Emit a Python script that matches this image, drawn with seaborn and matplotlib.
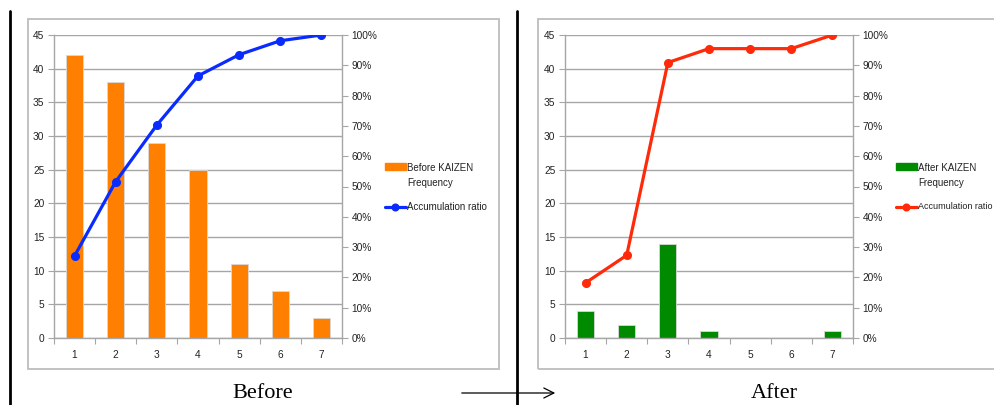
import matplotlib
matplotlib.use("Agg")
import matplotlib.pyplot as plt
import seaborn as sns
import pandas as pd
from matplotlib.patches import Rectangle, FancyArrowPatch
from matplotlib.lines import Line2D
from matplotlib.ticker import FuncFormatter, FixedLocator

# ---- data -------------------------------------------------------------
categories = ["1", "2", "3", "4", "5", "6", "7"]
before_freq = [42, 38, 29, 25, 11, 7, 3]
before_ratio = [27.1, 51.6, 70.3, 86.5, 93.5, 98.1, 100.0]
after_freq = [4, 2, 14, 1, 0, 0, 1]
after_ratio = [18.2, 27.3, 90.9, 95.5, 95.5, 95.5, 100.0]

freq_ticks = [0, 5, 10, 15, 20, 25, 30, 35, 40, 45]
pct_ticks = [0, 10, 20, 30, 40, 50, 60, 70, 80, 90, 100]

before_label = "Before KAIZEN\nFrequency"
after_label = "After KAIZEN\nFrequency"
line_label = "Accumulation ratio"

ORANGE = "#FF7F00"
BLUE = "#0A2BFF"
GREEN = "#008A00"
RED = "#FF2A0A"
GRID = "#A6A6A6"

sns.set_theme(style="white")
plt.rcParams["font.family"] = ["Liberation Sans", "DejaVu Sans"]

W, H = 995, 405
fig = plt.figure(figsize=(W / 100, H / 100), dpi=100)


def fx(px):
    return px / W


def fy(py):
    return 1 - py / H


def pareto_panel(left_px, freq, ratio, bar_color, line_color):
    ax = fig.add_axes([fx(left_px), fy(338), fx(288), fy(35) - fy(338)])
    df = pd.DataFrame({"cat": categories, "freq": freq, "ratio": ratio})
    sns.barplot(data=df, x="cat", y="freq", color=bar_color, width=0.42,
                saturation=1, edgecolor="#D9D9D9", linewidth=0.6, ax=ax,
                zorder=2)
    ax.set_ylim(0, 45)
    ax.set_xlim(-0.5, len(categories) - 0.5)
    ax.set_yticks(freq_ticks)
    ax.yaxis.grid(True, color=GRID, linewidth=1.0, zorder=0)
    ax.set_axisbelow(True)
    ax.set_xlabel("")
    ax.set_ylabel("")
    for side in ("left", "bottom"):
        ax.spines[side].set_color(GRID)
        ax.spines[side].set_linewidth(1.0)
    ax.spines["top"].set_visible(False)
    ax.spines["right"].set_visible(False)
    ax.tick_params(axis="y", which="major", length=4, width=0.8, color=GRID,
                   left=True, labelsize=7.3, pad=3, labelcolor="#222222")
    ax.tick_params(axis="x", which="major", length=0, labelsize=7.3, pad=9,
                   labelcolor="#222222")
    ax.xaxis.set_minor_locator(FixedLocator([i - 0.5 for i in range(len(categories) + 1)]))
    ax.tick_params(axis="x", which="minor", bottom=True, length=4, width=0.8,
                   color=GRID)

    ax2 = ax.twinx()
    sns.pointplot(data=df, x="cat", y="ratio", color=line_color, markers="o",
                  linestyles="-", markersize=4.8, linewidth=2.3, ax=ax2,
                  zorder=4)
    ax2.set_ylim(0, 100)
    ax2.set_xlim(-0.5, len(categories) - 0.5)
    ax2.set_yticks(pct_ticks)
    ax2.yaxis.set_major_formatter(FuncFormatter(lambda v, _: f"{v:.0f}%"))
    ax2.grid(False)
    ax2.set_xlabel("")
    ax2.set_ylabel("")
    for side in ("left", "top", "bottom"):
        ax2.spines[side].set_visible(False)
    ax2.spines["right"].set_color(GRID)
    ax2.spines["right"].set_linewidth(1.0)
    ax2.tick_params(axis="y", length=4, width=0.8, color=GRID, right=True,
                    labelsize=7.3, pad=3, labelcolor="#222222")
    return ax


def legend_block(x_px, label, bar_color, line_color, line_text_size=7):
    fig.patches.append(Rectangle((fx(x_px), fy(170)), fx(21), fy(163) - fy(170),
                                 transform=fig.transFigure, color=bar_color))
    fig.text(fx(x_px + 22), fy(163), label, fontsize=7, va="top", ha="left",
             linespacing=1.65, color="#222222")
    fig.lines.append(Line2D([fx(x_px), fx(x_px + 21)], [fy(207), fy(207)],
                            transform=fig.transFigure, color=line_color, lw=2.3))
    fig.lines.append(Line2D([fx(x_px + 10.5)], [fy(207)], transform=fig.transFigure,
                            color=line_color, marker="o", markersize=4.8, lw=0))
    fig.text(fx(x_px + 22), fy(207), line_label, fontsize=line_text_size,
             va="center", ha="left", color="#222222")


# chart frames
for x0, x1 in ((28, 499), (538, 1010)):
    fig.patches.append(Rectangle((fx(x0), fy(369)), fx(x1 - x0), fy(19) - fy(369),
                                 transform=fig.transFigure, fill=False,
                                 edgecolor="#BDBDBD", linewidth=1.3))

pareto_panel(54, before_freq, before_ratio, ORANGE, BLUE)
pareto_panel(565, after_freq, after_ratio, GREEN, RED)

legend_block(385, before_label, ORANGE, BLUE)
legend_block(896, after_label, GREEN, RED, line_text_size=6.5)

# page rules and arrow between the panels
for xp in (10, 517):
    fig.lines.append(Line2D([fx(xp), fx(xp)], [fy(11), 0], transform=fig.transFigure,
                            color="black", lw=2.0))
fig.patches.append(FancyArrowPatch((fx(459), fy(393)), (fx(558), fy(393)),
                                   transform=fig.transFigure, arrowstyle="->",
                                   mutation_scale=18, color="black", lw=0.9))

fig.text(fx(263), fy(394), "Before", fontsize=16, ha="center", va="center",
         family="Liberation Serif", color="black")
fig.text(fx(774), fy(394), "After", fontsize=16, ha="center", va="center",
         family="Liberation Serif", color="black")

fig.savefig("out.png", dpi=100)
